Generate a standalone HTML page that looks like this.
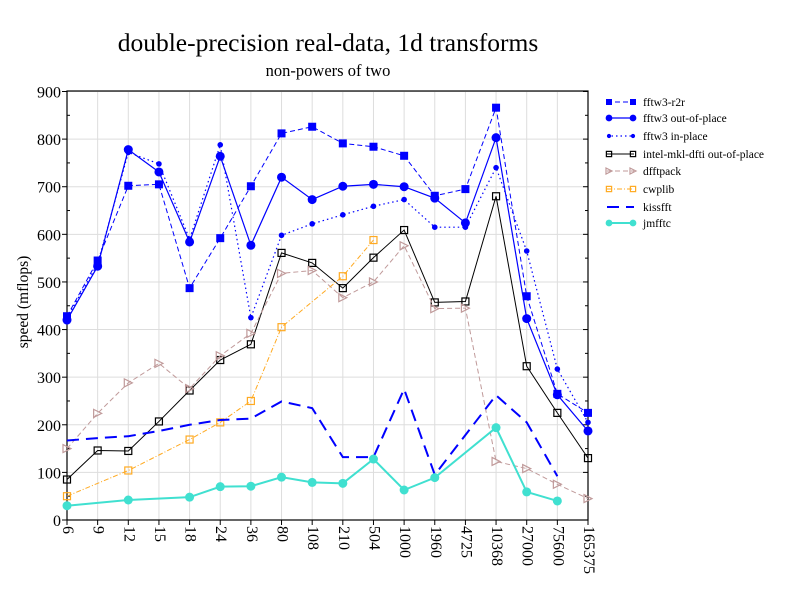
<!DOCTYPE html>
<html><head><meta charset="utf-8"><style>body{margin:0;background:#fff}svg{display:block}</style></head>
<body>
<svg id="s" width="792" height="612" xmlns="http://www.w3.org/2000/svg" font-family="Liberation Serif, serif">
<rect width="792" height="612" fill="#fff"/>
<text x="328" y="51" font-size="25.5" text-anchor="middle">double-precision real-data, 1d transforms</text>
<text x="328" y="76" font-size="16.5" text-anchor="middle">non-powers of two</text>
<text transform="translate(28,302) rotate(-90)" font-size="15.5" text-anchor="middle">speed (mflops)</text>
<g id="g"></g>
</svg>
<script>
const X0=67,DX=(588-67)/17,Y0=520,K=428.5/900;
const xs=i=>X0+i*DX, ys=v=>Y0-v*K;
const labs=["6","9","12","15","18","24","36","80","108","210","504","1000","1960","4725","10368","27000","75600","165375"];
let h='';
for(let v=0;v<=900;v+=100){h+=`<line x1="${X0}" x2="588" y1="${ys(v)}" y2="${ys(v)}" stroke="#ddd"/>`;
h+=`<text x="61" y="${ys(v)+6}" font-size="16" text-anchor="end">${v}</text>`;
h+=`<line x1="62" x2="67" y1="${ys(v)}" y2="${ys(v)}" stroke="#000"/><line x1="583" x2="588" y1="${ys(v)}" y2="${ys(v)}" stroke="#000"/>`;
if(v<900){h+=`<line x1="585" x2="588" y1="${ys(v+50)}" y2="${ys(v+50)}" stroke="#000"/><line x1="67" x2="70" y1="${ys(v+50)}" y2="${ys(v+50)}" stroke="#000"/>`;}}
labs.forEach((l,i)=>{const x=xs(i);h+=`<line x1="${x}" x2="${x}" y1="91" y2="520" stroke="#ddd"/>`;
h+=`<line x1="${x}" x2="${x}" y1="520" y2="525" stroke="#000"/>`;
h+=`<text transform="translate(${x-4},526) rotate(90)" font-size="16">${l}</text>`;});
h+=`<rect x="67" y="91" width="521" height="429" fill="none" stroke="#000" stroke-width="1.2"/>`;
const N=null;
const S=[
{c:"#0000ff",d:"5,3",w:1,m:"sq",ms:4,v:[428,545,702,705,487,592,701,812,826,791,784,765,681,695,866,470,265,225],n:"fftw3-r2r"},
{c:"#0000ff",d:"",w:1.2,m:"ci",ms:4.5,v:[420,533,778,731,584,764,577,720,673,701,705,700,676,624,803,423,263,187],n:"fftw3 out-of-place"},
{c:"#0000ff",d:"1.5,3",w:1.2,m:"ci",ms:2.8,v:[425,538,772,748,590,788,425,598,622,641,659,673,615,615,740,565,317,205],n:"fftw3 in-place"},
{c:"#000",d:"",w:1,m:"os",ms:3.5,v:[85,146,145,207,272,336,369,561,540,487,551,609,457,459,680,323,225,130],n:"intel-mkl-dfti out-of-place"},
{c:"#c09a9a",d:"5,3",w:1,m:"tr",ms:4,v:[150,224,288,329,276,345,392,518,524,467,500,576,444,445,123,108,75,45],n:"dfftpack"},
{c:"#ffaa22",d:"5,2,1,2",w:1,m:"os",ms:3.5,v:[50,N,104,N,169,205,250,405,N,512,588,N,N,N,N,N,N,N],n:"cwplib"},
{c:"#0000ff",d:"12,7",w:2,m:"",v:[167,172,176,187,200,210,213,249,235,132,132,275,95,N,262,205,92,N],n:"kissfft"},
{c:"#40e0d0",d:"",w:2,m:"ci",ms:4.5,v:[30,N,42,N,48,70,71,90,79,77,128,63,89,N,194,59,40,N],n:"jmfftc"}];
function mk(s,x,y){const c=s.c,r=s.ms;
if(s.m=="sq")return `<rect x="${x-r}" y="${y-r}" width="${2*r}" height="${2*r}" fill="${c}"/>`;
if(s.m=="ci")return `<circle cx="${x}" cy="${y}" r="${r}" fill="${c}"/>`;
if(s.m=="os")return `<rect x="${x-r}" y="${y-r}" width="${2*r}" height="${2*r}" fill="none" stroke="${c}" stroke-width="1.2"/>`;
if(s.m=="tr")return `<polygon points="${x-r},${y-r} ${x+r},${y} ${x-r},${y+r}" fill="none" stroke="${c}" stroke-width="1.2"/>`;return '';}
S.forEach((s,k)=>{let p=[];s.v.forEach((v,i)=>{if(v!=null)p.push([xs(i),ys(v)])});
h+=`<polyline points="${p.map(a=>a.join(',')).join(' ')}" fill="none" stroke="${s.c}" stroke-width="${s.w}" stroke-dasharray="${s.d}"/>`;
p.forEach(a=>h+=mk(s,a[0],a[1]));
const ly=[102,118,136,154,171,189,207,223][k];
h+=`<line x1="607" x2="634" y1="${ly}" y2="${ly}" stroke="${s.c}" stroke-width="${s.w}" stroke-dasharray="${s.d}"/>`;
const s2=Object.assign({},s,{ms:(s.ms||0)*0.75});h+=mk(s2,609,ly)+mk(s2,633,ly);
h+=`<text x="643" y="${ly+4}" font-size="11.5">${s.n}</text>`;});
document.getElementById('g').innerHTML=h;
</script>
</body></html>
